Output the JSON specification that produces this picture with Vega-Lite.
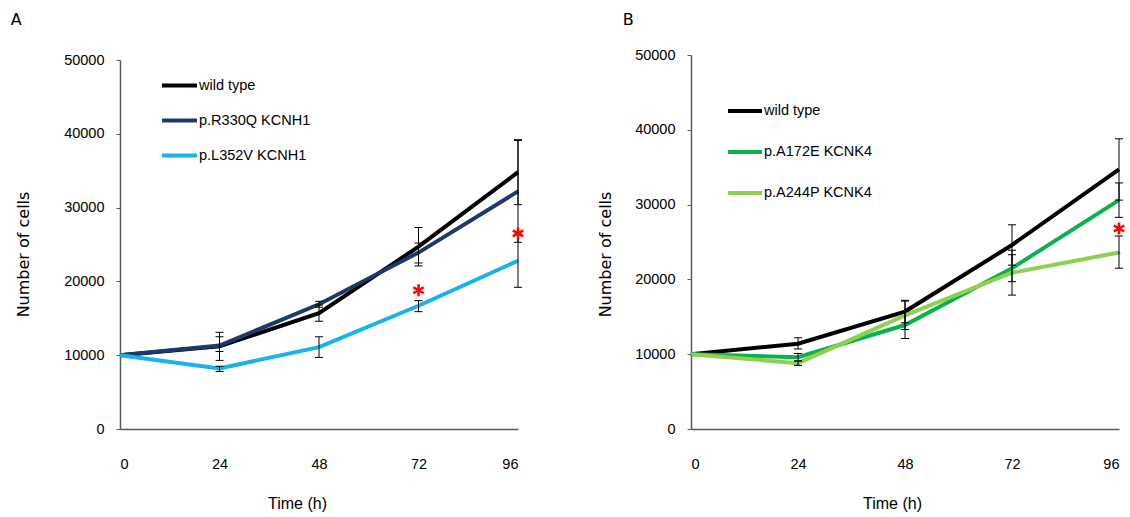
{
  "$schema": "https://vega.github.io/schema/vega-lite/v6.json",
  "padding": {"left": 10, "top": 12, "right": 5, "bottom": 5},
  "background": "white",
  "spacing": 68,
  "config": {
    "view": {"stroke": null},
    "axis": {"grid": false, "domainColor": "#595959", "domainWidth": 1.5, "tickColor": "#595959", "labelFont": "Liberation Sans", "labelFontSize": 14.5, "labelColor": "#000000"},
    "legend": {"labelFont": "Liberation Sans", "labelFontSize": 14.5, "labelColor": "#000000"}
  },
  "resolve": {"scale": {"color": "independent", "x": "independent", "y": "independent"}, "legend": {"color": "independent"}},
  "datasets": {
    "series": [
      {"panel": "A", "series": "wild type", "time": 0, "mean": 10000, "lo": 10000, "hi": 10000},
      {"panel": "A", "series": "wild type", "time": 24, "mean": 11200, "lo": 9300, "hi": 13100},
      {"panel": "A", "series": "wild type", "time": 48, "mean": 15700, "lo": 14600, "hi": 16800},
      {"panel": "A", "series": "wild type", "time": 72, "mean": 24700, "lo": 22100, "hi": 27300},
      {"panel": "A", "series": "wild type", "time": 96, "mean": 34800, "lo": 30400, "hi": 39200},
      {"panel": "A", "series": "p.R330Q KCNH1", "time": 0, "mean": 10000, "lo": 10000, "hi": 10000},
      {"panel": "A", "series": "p.R330Q KCNH1", "time": 24, "mean": 11300, "lo": 10500, "hi": 12500},
      {"panel": "A", "series": "p.R330Q KCNH1", "time": 48, "mean": 16900, "lo": 16500, "hi": 17300},
      {"panel": "A", "series": "p.R330Q KCNH1", "time": 72, "mean": 23900, "lo": 22500, "hi": 25200},
      {"panel": "A", "series": "p.R330Q KCNH1", "time": 96, "mean": 32200, "lo": 25300, "hi": 39100},
      {"panel": "A", "series": "p.L352V KCNH1", "time": 0, "mean": 10000, "lo": 10000, "hi": 10000},
      {"panel": "A", "series": "p.L352V KCNH1", "time": 24, "mean": 8200, "lo": 7800, "hi": 8500},
      {"panel": "A", "series": "p.L352V KCNH1", "time": 48, "mean": 11100, "lo": 9700, "hi": 12500},
      {"panel": "A", "series": "p.L352V KCNH1", "time": 72, "mean": 16700, "lo": 15900, "hi": 17400},
      {"panel": "A", "series": "p.L352V KCNH1", "time": 96, "mean": 22800, "lo": 19200, "hi": 26400},
      {"panel": "B", "series": "wild type", "time": 0, "mean": 10000, "lo": 10000, "hi": 10000},
      {"panel": "B", "series": "wild type", "time": 24, "mean": 11400, "lo": 10700, "hi": 12200},
      {"panel": "B", "series": "wild type", "time": 48, "mean": 15700, "lo": 14200, "hi": 17200},
      {"panel": "B", "series": "wild type", "time": 72, "mean": 24600, "lo": 21900, "hi": 27300},
      {"panel": "B", "series": "wild type", "time": 96, "mean": 34700, "lo": 30600, "hi": 38800},
      {"panel": "B", "series": "p.A172E KCNK4", "time": 0, "mean": 10000, "lo": 10000, "hi": 10000},
      {"panel": "B", "series": "p.A172E KCNK4", "time": 24, "mean": 9600, "lo": 9100, "hi": 10100},
      {"panel": "B", "series": "p.A172E KCNK4", "time": 48, "mean": 13900, "lo": 12100, "hi": 15700},
      {"panel": "B", "series": "p.A172E KCNK4", "time": 72, "mean": 21500, "lo": 19700, "hi": 23300},
      {"panel": "B", "series": "p.A172E KCNK4", "time": 96, "mean": 30600, "lo": 28300, "hi": 32900},
      {"panel": "B", "series": "p.A244P KCNK4", "time": 0, "mean": 10000, "lo": 10000, "hi": 10000},
      {"panel": "B", "series": "p.A244P KCNK4", "time": 24, "mean": 8800, "lo": 8500, "hi": 9100},
      {"panel": "B", "series": "p.A244P KCNK4", "time": 48, "mean": 15200, "lo": 13300, "hi": 17100},
      {"panel": "B", "series": "p.A244P KCNK4", "time": 72, "mean": 20900, "lo": 17900, "hi": 23900},
      {"panel": "B", "series": "p.A244P KCNK4", "time": 96, "mean": 23600, "lo": 21500, "hi": 25800}
    ],
    "stars": [
      {"panel": "A", "time": 72, "value": 18800},
      {"panel": "A", "time": 96, "value": 26500},
      {"panel": "B", "time": 96, "value": 26800}
    ]
  },
  "hconcat": [
    {
      "width": 398,
      "height": 374,
      "title": {"text": "A", "anchor": "start", "frame": "bounds", "font": "DejaVu Sans", "fontSize": 16, "fontWeight": "normal", "offset": 24, "dx": -5},
      "layer": [
        {
          "data": {"name": "series"},
          "transform": [{"filter": "datum.panel === 'A'"}],
          "mark": {"type": "line", "strokeWidth": 4},
          "encoding": {
            "x": {"field": "time", "type": "quantitative", "title": "Time (h)", "scale": {"domain": [0, 96], "nice": false}, "axis": {"values": [0, 24, 48, 72, 96], "ticks": false, "labelPadding": 28, "titleFont": "Liberation Sans", "titleFontSize": 16, "titleFontWeight": "normal", "titlePadding": 25, "titleX": 177}},
            "y": {"field": "mean", "type": "quantitative", "title": "Number of cells", "scale": {"domain": [0, 50000], "nice": false, "range": [374, 5]}, "axis": {"values": [0, 10000, 20000, 30000, 40000, 50000], "format": "d", "tickSize": 4, "labelPadding": 12, "titleFont": "DejaVu Sans", "titleFontSize": 16, "titleFontWeight": "normal", "titlePadding": 32, "titleY": 199}},
            "color": {"field": "series", "type": "nominal", "sort": null, "scale": {"domain": ["wild type", "p.R330Q KCNH1", "p.L352V KCNH1"], "range": ["#000000", "#1b3a6b", "#1ab2ee"]}, "legend": {"title": null, "orient": "none", "legendX": 40, "legendY": 11, "symbolType": "stroke", "symbolSize": 1225, "symbolStrokeWidth": 4, "labelOffset": 0, "rowPadding": 7}}
          }
        },
        {
          "data": {"name": "series"},
          "transform": [{"filter": "datum.panel === 'A' && datum.time > 0"}],
          "mark": {"type": "rule", "color": "#000000", "strokeWidth": 1},
          "encoding": {
            "x": {"field": "time", "type": "quantitative", "title": "Time (h)"},
            "y": {"field": "lo", "type": "quantitative", "title": "Number of cells"},
            "y2": {"field": "hi"}
          }
        },
        {
          "data": {"name": "series"},
          "transform": [{"filter": "datum.panel === 'A' && datum.time > 0"}],
          "mark": {"type": "tick", "orient": "horizontal", "color": "#000000", "size": 8, "thickness": 1, "opacity": 1},
          "encoding": {
            "x": {"field": "time", "type": "quantitative", "title": "Time (h)"},
            "y": {"field": "lo", "type": "quantitative", "title": "Number of cells"}
          }
        },
        {
          "data": {"name": "series"},
          "transform": [{"filter": "datum.panel === 'A' && datum.time > 0"}],
          "mark": {"type": "tick", "orient": "horizontal", "color": "#000000", "size": 8, "thickness": 1, "opacity": 1},
          "encoding": {
            "x": {"field": "time", "type": "quantitative", "title": "Time (h)"},
            "y": {"field": "hi", "type": "quantitative", "title": "Number of cells"}
          }
        },
        {
          "data": {"name": "stars"},
          "transform": [{"filter": "datum.panel === 'A'"}],
          "mark": {"type": "point", "shape": "M0,-1L0,1M-0.87,-0.5L0.87,0.5M-0.87,0.5L0.87,-0.5", "filled": false, "stroke": "#ff0000", "strokeWidth": 2.5, "size": 144, "opacity": 1},
          "encoding": {
            "x": {"field": "time", "type": "quantitative", "title": "Time (h)"},
            "y": {"field": "value", "type": "quantitative", "title": "Number of cells"}
          }
        }
      ]
    },
    {
      "width": 428,
      "height": 374,
      "title": {"text": "B", "anchor": "start", "frame": "bounds", "font": "DejaVu Sans", "fontSize": 16, "fontWeight": "normal", "offset": 19, "dx": 25},
      "layer": [
        {
          "data": {"name": "series"},
          "transform": [{"filter": "datum.panel === 'B'"}],
          "mark": {"type": "line", "strokeWidth": 4},
          "encoding": {
            "x": {"field": "time", "type": "quantitative", "title": "Time (h)", "scale": {"domain": [0, 96], "nice": false}, "axis": {"values": [0, 24, 48, 72, 96], "ticks": false, "labelPadding": 28, "titleFont": "Liberation Sans", "titleFontSize": 16, "titleFontWeight": "normal", "titlePadding": 25, "titleX": 201}},
            "y": {"field": "mean", "type": "quantitative", "title": "Number of cells", "scale": {"domain": [0, 50000], "nice": false}, "axis": {"values": [0, 10000, 20000, 30000, 40000, 50000], "format": "d", "tickSize": 4, "labelPadding": 12, "titleFont": "DejaVu Sans", "titleFontSize": 16, "titleFontWeight": "normal", "titlePadding": 21, "titleY": 199}},
            "color": {"field": "series", "type": "nominal", "sort": null, "scale": {"domain": ["wild type", "p.A172E KCNK4", "p.A244P KCNK4"], "range": ["#000000", "#0bb04f", "#8fd14f"]}, "legend": {"title": null, "orient": "none", "legendX": 35, "legendY": 37, "symbolType": "stroke", "symbolSize": 1156, "symbolStrokeWidth": 4, "labelOffset": 0, "rowPadding": 14}}
          }
        },
        {
          "data": {"name": "series"},
          "transform": [{"filter": "datum.panel === 'B' && datum.series === 'p.A244P KCNK4'"}],
          "mark": {"type": "point", "shape": "triangle-up", "filled": true, "color": "#3aa0d8", "size": 14, "opacity": 1},
          "encoding": {
            "x": {"field": "time", "type": "quantitative", "title": "Time (h)"},
            "y": {"field": "mean", "type": "quantitative", "title": "Number of cells"}
          }
        },
        {
          "data": {"name": "series"},
          "transform": [{"filter": "datum.panel === 'B' && datum.time > 0"}],
          "mark": {"type": "rule", "color": "#000000", "strokeWidth": 1},
          "encoding": {
            "x": {"field": "time", "type": "quantitative", "title": "Time (h)"},
            "y": {"field": "lo", "type": "quantitative", "title": "Number of cells"},
            "y2": {"field": "hi"}
          }
        },
        {
          "data": {"name": "series"},
          "transform": [{"filter": "datum.panel === 'B' && datum.time > 0"}],
          "mark": {"type": "tick", "orient": "horizontal", "color": "#000000", "size": 8, "thickness": 1, "opacity": 1},
          "encoding": {
            "x": {"field": "time", "type": "quantitative", "title": "Time (h)"},
            "y": {"field": "lo", "type": "quantitative", "title": "Number of cells"}
          }
        },
        {
          "data": {"name": "series"},
          "transform": [{"filter": "datum.panel === 'B' && datum.time > 0"}],
          "mark": {"type": "tick", "orient": "horizontal", "color": "#000000", "size": 8, "thickness": 1, "opacity": 1},
          "encoding": {
            "x": {"field": "time", "type": "quantitative", "title": "Time (h)"},
            "y": {"field": "hi", "type": "quantitative", "title": "Number of cells"}
          }
        },
        {
          "data": {"name": "stars"},
          "transform": [{"filter": "datum.panel === 'B'"}],
          "mark": {"type": "point", "shape": "M0,-1L0,1M-0.87,-0.5L0.87,0.5M-0.87,0.5L0.87,-0.5", "filled": false, "stroke": "#ff0000", "strokeWidth": 2.5, "size": 144, "opacity": 1},
          "encoding": {
            "x": {"field": "time", "type": "quantitative", "title": "Time (h)"},
            "y": {"field": "value", "type": "quantitative", "title": "Number of cells"}
          }
        }
      ]
    }
  ]
}
